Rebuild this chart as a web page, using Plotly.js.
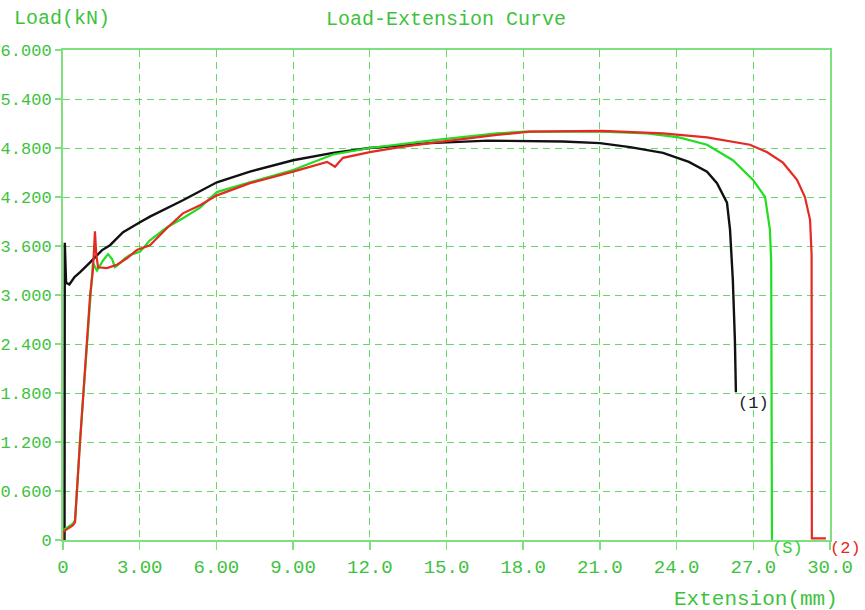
<!DOCTYPE html>
<html>
<head>
<meta charset="utf-8">
<script src="https://cdn.plot.ly/plotly-3.0.1.min.js"></script>
<style>
  html, body { margin: 0; padding: 0; background: #ffffff; }
  #chart { width: 865px; height: 610px; }
</style>
</head>
<body>
<div id="chart"></div>
<script>
// ---- data (extension in mm, load in kN) ----
const blackX = [0.06, 0.06, 0.07, 0.12, 0.25, 0.45, 0.67, 1.06, 1.53, 1.84, 2.35, 3.01, 3.40, 4.69, 6.02, 7.31, 9.00, 10.56, 11.50, 12.00, 14.35, 16.62, 19.55, 21.00, 22.18, 23.47, 24.48, 24.91, 25.19, 25.58, 25.97, 26.09, 26.20, 26.28, 26.32];
const blackY = [0.00, 0.82, 3.64, 3.15, 3.13, 3.22, 3.28, 3.40, 3.55, 3.61, 3.77, 3.89, 3.96, 4.16, 4.38, 4.51, 4.65, 4.74, 4.78, 4.80, 4.86, 4.89, 4.88, 4.86, 4.81, 4.74, 4.63, 4.56, 4.51, 4.37, 4.13, 3.80, 3.18, 2.45, 1.81];

const redX = [0.00, 0.00, 0.39, 0.47, 0.66, 0.94, 1.06, 1.17, 1.25, 1.30, 1.37, 1.72, 2.11, 2.50, 2.89, 3.40, 4.07, 4.69, 5.36, 6.02, 7.31, 9.00, 10.33, 10.64, 10.95, 12.00, 13.18, 14.35, 16.97, 18.26, 21.08, 23.47, 25.19, 26.87, 27.53, 28.16, 28.71, 29.02, 29.22, 29.28, 29.29, 29.84];
const redY = [0.00, 0.10, 0.18, 0.22, 1.17, 2.43, 3.00, 3.30, 3.78, 3.50, 3.34, 3.33, 3.37, 3.45, 3.55, 3.61, 3.82, 4.00, 4.10, 4.22, 4.37, 4.51, 4.63, 4.57, 4.68, 4.75, 4.81, 4.86, 4.96, 5.00, 5.01, 4.98, 4.93, 4.84, 4.75, 4.62, 4.41, 4.20, 3.92, 3.50, 0.02, 0.02];

const greenX = [0.00, 0.00, 0.39, 0.47, 0.66, 0.94, 1.06, 1.17, 1.33, 1.56, 1.76, 1.92, 2.03, 2.23, 2.42, 2.62, 3.01, 3.40, 4.07, 4.69, 5.36, 6.02, 7.31, 9.00, 10.56, 12.00, 14.35, 16.97, 18.07, 21.08, 22.84, 24.09, 25.19, 26.20, 26.99, 27.46, 27.65, 27.70, 27.73];
const greenY = [0.00, 0.12, 0.20, 0.24, 1.19, 2.45, 3.00, 3.39, 3.30, 3.42, 3.50, 3.44, 3.34, 3.39, 3.45, 3.49, 3.53, 3.67, 3.83, 3.94, 4.07, 4.26, 4.38, 4.53, 4.72, 4.80, 4.89, 4.98, 5.00, 5.00, 4.98, 4.93, 4.84, 4.65, 4.41, 4.20, 3.80, 3.40, 0.00];

const xTickVals = [0, 3, 6, 9, 12, 15, 18, 21, 24, 27, 30];
const xTickText = ["0", "3.00", "6.00", "9.00", "12.0", "15.0", "18.0", "21.0", "24.0", "27.0", "30.0"];
const yTickVals = [0, 0.6, 1.2, 1.8, 2.4, 3.0, 3.6, 4.2, 4.8, 5.4, 6.0];
const yTickText = ["0", "0.600", "1.200", "1.800", "2.400", "3.000", "3.600", "4.200", "4.800", "5.400", "6.000"];

const curveLabels = ["(1)", "(2)", "(S)"];
const titleText = "Load-Extension Curve";
const yTitleText = "Load(kN)";
const xTitleText = "Extension(mm)";

// ---- styling ----
const FONT = "Liberation Mono, DejaVu Sans Mono, monospace";
const TXT = "#3ec23e";
const GRID = "#66d866";
const BORDER = "#7ee07e";

const traces = [
  {x: blackX, y: blackY, mode: "lines", line: {color: "#111111", width: 2.4}, name: curveLabels[0], hoverinfo: "skip"},
  {x: greenX, y: greenY, mode: "lines", line: {color: "#22dd22", width: 2.2}, name: curveLabels[2], hoverinfo: "skip"},
  {x: redX, y: redY, mode: "lines", line: {color: "#e42a22", width: 2.2}, name: curveLabels[1], hoverinfo: "skip"}
];

const layout = {
  width: 865, height: 610,
  paper_bgcolor: "#ffffff", plot_bgcolor: "#ffffff",
  margin: {l: 63, r: 35, t: 50, b: 70, pad: 0},
  showlegend: false,
  font: {family: FONT, color: TXT, size: 19},
  title: {text: titleText, x: 0.5156, xanchor: "center", y: 0.971, yanchor: "middle",
          font: {family: FONT, color: TXT, size: 20}},
  xaxis: {
    range: [0, 30], tickvals: xTickVals, ticktext: xTickText,
    showgrid: true, gridcolor: GRID, griddash: "7px,5px", gridwidth: 1,
    showline: true, linecolor: BORDER, linewidth: 2, mirror: true,
    ticks: "outside", ticklen: 8, tickcolor: BORDER, tickwidth: 1.5,
    tickfont: {family: FONT, color: TXT, size: 19},
    zeroline: false, fixedrange: true
  },
  yaxis: {
    range: [0, 6], tickvals: yTickVals, ticktext: yTickText,
    showgrid: true, gridcolor: GRID, griddash: "7px,5px", gridwidth: 1,
    showline: true, linecolor: BORDER, linewidth: 2, mirror: true,
    ticks: "outside", ticklen: 6, tickcolor: BORDER, tickwidth: 1.5,
    tickfont: {family: FONT, color: TXT, size: 17},
    automargin: false, zeroline: false, fixedrange: true
  },
  annotations: [
    {text: yTitleText, xref: "paper", yref: "paper", x: -0.066, y: 1.065, xanchor: "left", yanchor: "middle",
     showarrow: false, font: {family: FONT, color: TXT, size: 20}},
    {text: xTitleText, xref: "paper", yref: "paper", x: 0.904, y: -0.122, xanchor: "center", yanchor: "middle",
     showarrow: false, font: {family: FONT, color: TXT, size: 21}},
    {text: curveLabels[0], xref: "x", yref: "y", x: 26.99, y: 1.67, xanchor: "center", yanchor: "middle",
     showarrow: false, font: {family: FONT, color: "#222222", size: 17}},
    {text: curveLabels[2], xref: "paper", yref: "paper", x: 0.944, y: -0.018, xanchor: "center", yanchor: "middle",
     showarrow: false, font: {family: FONT, color: "#2fcf2f", size: 17}},
    {text: curveLabels[1], xref: "paper", yref: "paper", x: 1.0196, y: -0.018, xanchor: "center", yanchor: "middle",
     showarrow: false, font: {family: FONT, color: "#e42a22", size: 17}}
  ]
};

Plotly.newPlot("chart", traces, layout, {displayModeBar: false, staticPlot: true});
</script>
</body>
</html>
